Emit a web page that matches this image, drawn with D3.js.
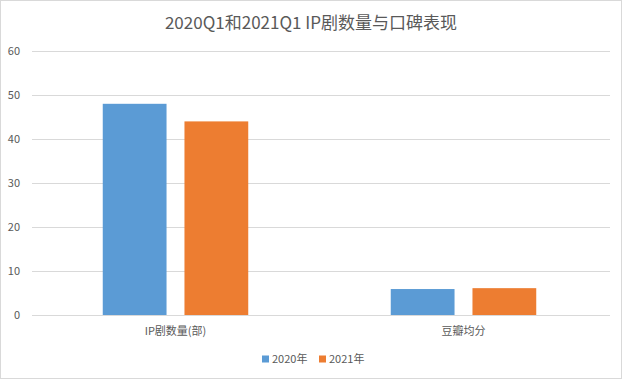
<!DOCTYPE html>
<html><head><meta charset="utf-8">
<script src="https://cdn.jsdelivr.net/npm/d3@7"></script>
<style>body{margin:0;background:#fff}svg{display:block}text{font-family:"Noto Sans CJK SC","Noto Sans",sans-serif}</style>
</head><body>
<svg id="c" width="622" height="379"></svg>
<script>
const categories = ["IP剧数量(部)", "豆瓣均分"];
const seriesNames = ["2020年", "2021年"];
const values2020 = [48, 5.9];
const values2021 = [44, 6.1];
const yTicks = [0, 10, 20, 30, 40, 50, 60];
const title = "2020Q1和2021Q1 IP剧数量与口碑表现";
const colors = ["#5b9bd5", "#ed7d31"];

(function () {
const W = 622, H = 379;
const svg = d3.select("#c");
svg.append("rect").attr("x",0.5).attr("y",0.5).attr("width",W-1).attr("height",H-1)
  .attr("fill","#fff").attr("stroke","#d9d9d9");

const pLeft = 31.5, pRight = 607.5, pTop = 51, pBottom = 315;
const y = d3.scaleLinear().domain([0, 60]).range([pBottom, pTop]);
const x0 = d3.scaleBand().domain(categories).range([pLeft, pRight]).paddingInner(0).paddingOuter(0);
const x1 = d3.scaleBand().domain(seriesNames).range([0, x0.bandwidth()]).paddingInner(0.2195).paddingOuter(0.872);

svg.append("g").selectAll("line").data(yTicks).join("line")
  .attr("x1", 32).attr("x2", 610)
  .attr("y1", d => Math.round(y(d)) + 0.5).attr("y2", d => Math.round(y(d)) + 0.5)
  .attr("stroke", "#d9d9d9").attr("stroke-width", 1);

svg.append("g").selectAll("text").data(yTicks).join("text")
  .attr("x", 20).attr("y", d => y(d)).attr("dy", "0.35em")
  .attr("text-anchor", "end").attr("font-size", 11).attr("fill", "#595959")
  .text(d => d);

const data = categories.map((c, i) => ({cat: c, vals: [values2020[i], values2021[i]]}));
const g = svg.append("g").selectAll("g").data(data).join("g")
  .attr("transform", d => `translate(${x0(d.cat)},0)`);
g.selectAll("rect").data(d => d.vals.map((v, j) => ({s: seriesNames[j], v, j}))).join("rect")
  .attr("x", d => x1(d.s)).attr("width", x1.bandwidth())
  .attr("y", d => y(d.v)).attr("height", d => y(0) - y(d.v))
  .attr("fill", d => colors[d.j]);

svg.append("g").selectAll("text").data(categories).join("text")
  .attr("x", d => x0(d) + x0.bandwidth() / 2).attr("y", 335)
  .attr("text-anchor", "middle").attr("font-size", 11).attr("fill", "#595959")
  .text(d => d);

svg.append("text").attr("x", 311).attr("y", 29).attr("text-anchor", "middle")
  .attr("font-size", 17).attr("fill", "#595959").text(title);

const lg = svg.append("g").attr("transform", "translate(262,359)");
const items = lg.selectAll("g").data(seriesNames).join("g")
  .attr("transform", (d, i) => `translate(${i * 57},0)`);
items.append("rect").attr("x", 0).attr("y", -3.5).attr("width", 7).attr("height", 7)
  .attr("fill", (d, i) => colors[i]);
items.append("text").attr("x", 10).attr("y", 0).attr("dy", "0.35em")
  .attr("font-size", 11).attr("fill", "#595959").text(d => d);
})();
</script>
</body></html>
